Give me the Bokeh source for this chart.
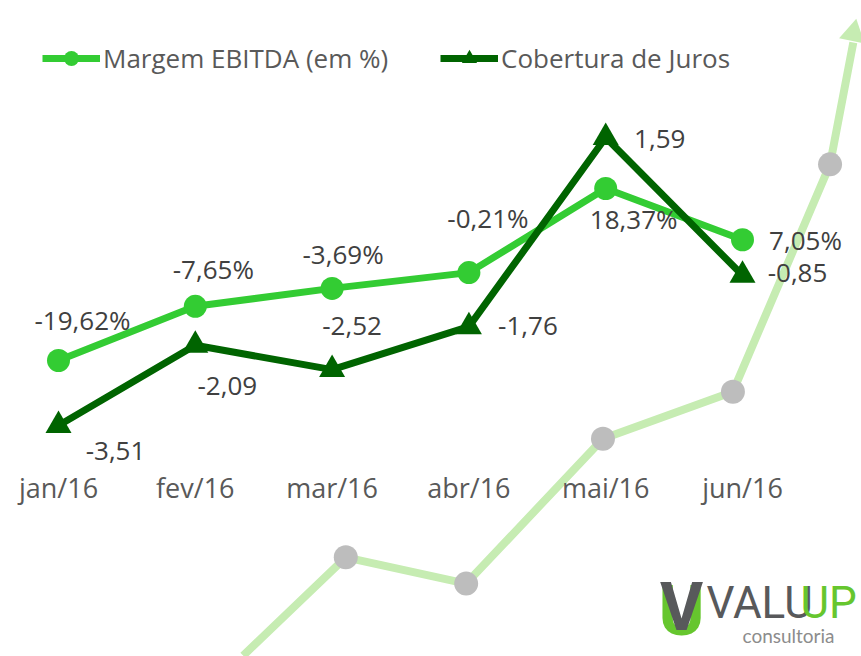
from bokeh.plotting import figure
from bokeh.models import (ColumnDataSource, Range1d, LinearAxis, FixedTicker,
                          Legend, LegendItem, Label)
from bokeh.core.properties import value
from bokeh.embed import file_html
from bokeh.resources import INLINE

# ---------------- data ----------------
months = ["jan/16", "fev/16", "mar/16", "abr/16", "mai/16", "jun/16"]
margem_ebitda = [-19.62, -7.65, -3.69, -0.21, 18.37, 7.05]
cobertura_juros = [-3.51, -2.09, -2.52, -1.76, 1.59, -0.85]

# decorative watermark artwork behind the chart (primary-axis units)
wm_line_x = [1.35, 2.10, 2.98, 3.98, 4.93, 5.64, 5.81]
wm_line_y = [-84.8, -63.1, -68.9, -36.9, -26.5, 23.7, 50.6]
wm_dot_x = [2.10, 2.98, 3.98, 4.93, 5.64]
wm_dot_y = [-63.1, -68.9, -36.9, -26.5, 23.7]

# label offsets in pixels (style)
ebitda_dx = [24, 18, 11, 19, 28, 63]
ebitda_dy = [-41, -37, -34, -55, 30, 0]
cob_dx = [57, 32, 20, 59, 54, 55]
cob_dy = [26, 41, -44, -1, 2, -2]

C_EBITDA = "#33CC33"
C_COB = "#006400"
C_TEXT = "#404040"
C_AXIS = "#595959"
FONT = "Open Sans"

idx = list(range(len(months)))

def fmt(v, pct):
    s = f"{v:.2f}".replace(".", ",")
    return s + ("%" if pct else "")

src_e = ColumnDataSource(dict(x=idx, y=margem_ebitda,
                              lab=[fmt(v, True) for v in margem_ebitda],
                              dx=ebitda_dx, dy=ebitda_dy))
src_c = ColumnDataSource(dict(x=idx, y=cobertura_juros,
                              lab=[fmt(v, False) for v in cobertura_juros],
                              dx=cob_dx, dy=cob_dy))

p = figure(width=861, height=656,
           x_range=Range1d(-0.42398, 5.86988),
           y_range=Range1d(-84.998, 59.894),
           output_backend="svg", toolbar_location=None,
           min_border=0, x_axis_location=None, y_axis_location=None,
           outline_line_color=None)
p.grid.visible = False
p.extra_y_ranges = {"cob": Range1d(-7.601, 4.016)}

# watermark
p.line(wm_line_x, wm_line_y, line_color="#C6ECB2", line_width=8)
p.scatter(wm_line_x[-1:], [wm_line_y[-1] + 2], marker="triangle", size=26,
          angle=-0.2, fill_color="#C6ECB2", line_color=None)
p.scatter(wm_dot_x, wm_dot_y, marker="circle", size=24,
          fill_color="#BDBDBD", line_color=None)

# series
line_e = p.line("x", "y", source=src_e, line_color=C_EBITDA, line_width=7)
sc_e = p.scatter("x", "y", source=src_e, marker="circle", size=23,
                 fill_color=C_EBITDA, line_color=None)
line_c = p.line("x", "y", source=src_c, y_range_name="cob", line_color=C_COB, line_width=7)
sc_c = p.scatter("x", "y", source=src_c, y_range_name="cob", marker="triangle", size=26,
                 fill_color=C_COB, line_color=None)

# data labels
p.text("x", "y", text="lab", source=src_e, x_offset="dx", y_offset="dy",
       text_align="center", text_baseline="middle",
       text_font=value(FONT), text_font_size="26px", text_color=C_TEXT)
p.text("x", "y", text="lab", source=src_c, y_range_name="cob",
       x_offset="dx", y_offset="dy",
       text_align="center", text_baseline="middle",
       text_font=value(FONT), text_font_size="26px", text_color=C_TEXT)

# category axis
xaxis = LinearAxis(ticker=FixedTicker(ticks=idx),
                   major_label_overrides={i: m for i, m in zip(idx, months)},
                   fixed_location=-43.5,
                   axis_line_color=None, major_tick_line_color=None,
                   minor_tick_line_color=None, major_tick_out=0,
                   major_label_standoff=0,
                   major_label_text_font=FONT,
                   major_label_text_font_size="27px",
                   major_label_text_color=C_AXIS)
p.add_layout(xaxis, "below")

# legends
for items, loc in (([LegendItem(label="Margem EBITDA (em %)", renderers=[line_e, sc_e])], (42, 579)),
                   ([LegendItem(label="Cobertura de Juros", renderers=[line_c, sc_c])], (440, 579))):
    leg = Legend(items=items, location=loc, orientation="horizontal",
                 glyph_width=58, glyph_height=38, label_height=38,
                 padding=0, margin=0, spacing=0, label_standoff=3,
                 border_line_color=None, background_fill_alpha=0,
                 label_text_font=FONT, label_text_font_size="26px",
                 label_text_color=C_AXIS)
    p.add_layout(leg)

# logo (decorative)
LOGO = "Roboto"
p.add_layout(Label(x=681, y=46, x_units="screen", y_units="screen", text="U",
                   text_align="center", text_baseline="middle",
                   text_font=LOGO, text_font_style="bold", text_font_size="70px",
                   text_color="#66C62E"))
p.add_layout(Label(x=681, y=49, x_units="screen", y_units="screen", text="V",
                   text_align="center", text_baseline="middle",
                   text_font=LOGO, text_font_style="bold", text_font_size="66px",
                   text_color="#58595B"))
p.add_layout(Label(x=706, y=54, x_units="screen", y_units="screen", text="VALU",
                   text_align="left", text_baseline="middle",
                   text_font=LOGO, text_font_size="44px", text_color="#58595B"))
p.add_layout(Label(x=800, y=54, x_units="screen", y_units="screen", text="UP",
                   text_align="left", text_baseline="middle",
                   text_font=LOGO, text_font_size="44px", text_color="#66C62E"))
p.add_layout(Label(x=742, y=21, x_units="screen", y_units="screen", text="consultoria",
                   text_align="left", text_baseline="middle",
                   text_font="Lato", text_font_size="19px", text_color="#8C8C8C"))

open("out.html", "w").write(file_html(p, INLINE))
